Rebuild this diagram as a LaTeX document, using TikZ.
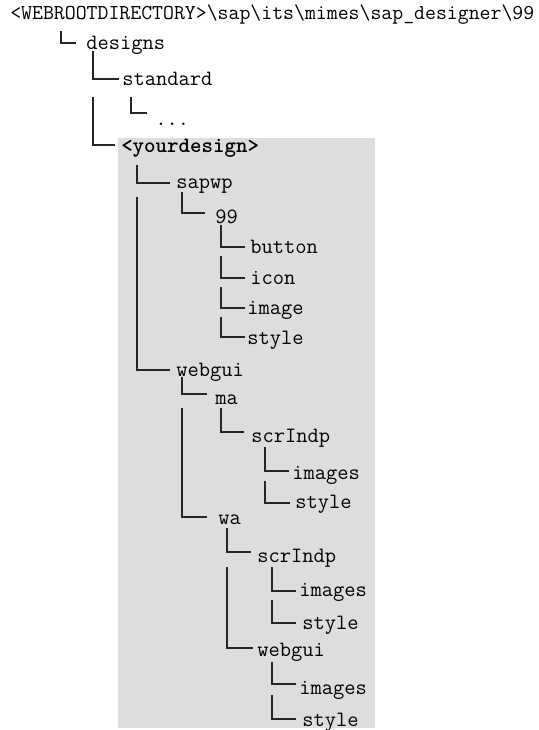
\documentclass[tikz,border=0pt]{standalone}
\usepackage{fontspec}
\usetikzlibrary{calc}
\definecolor{dirgray}{RGB}{221,221,221}
\tikzset{
  item/.style={anchor=base west,inner sep=0pt,font=\ttfamily\fontsize{16.4}{18}\selectfont},
  branch/.style={line width=0.8pt,black!85}
}

\begin{document}
\begin{tikzpicture}[x=0.75pt,y=-0.75pt]
\useasboundingbox (0,0) rectangle (538,730);
% shaded part below the custom design
\fill[dirgray] (118,138) rectangle (375,728);
\node[item,font=\ttfamily\fontsize{15.9}{17}\selectfont] (root) at (10,20)
  {<WEBROOTDIRECTORY>\textbackslash sap\textbackslash its\textbackslash mimes\textbackslash sap\_designer\textbackslash 99};
\node[item] (des) at (86,50) {designs};
\node[item] (std) at (122,86) {standard};
\node[item] (dots) at (155,126) {...};
\node[item] (yd) at (121,153) {\bfseries <yourdesign>};
% sapwp branch
\node[item] (sapwp) at (176,189) {sapwp};
\node[item] (n99) at (215,224) {99};
\node[item] (btn) at (250,254) {button};
\node[item] (icon) at (250,285) {icon};
\node[item] (img) at (247,315) {image};
\node[item] (sty) at (247,344) {style};
% webgui branch
\node[item] (wg) at (176,376) {webgui};
\node[item] (ma) at (215,404) {ma};
\node[item] (si) at (251,442) {scrIndp};
\node[item] (si-img) at (292,479) {images};
\node[item] (si-sty) at (295,508) {style};
\node[item] (wa) at (218,524) {wa};
\node[item] (wsi) at (257,562) {scrIndp};
\node[item] (wsi-img) at (299,596) {images};
\node[item] (wsi-sty) at (302,629) {style};
\node[item] (wwg) at (257,656) {webgui};
\node[item] (wwg-img) at (299,694) {images};
\node[item] (wwg-sty) at (302,726) {style};
% elbow connectors: parent/child/dx/dy/gap/rise
\foreach \p/\c/\dx/\dy/\gap/\rise in {
  root/des/51/11/10/7, des/std/7/1/3/7, std/dots/9/11/8/13, des/yd/7/47/6/8,
  yd/sapwp/16/12/6/6, sapwp/n99/6/3/10/11,
  n99/btn/6/1/5/7, n99/icon/6/32/5/7, n99/img/6/63/2/7, n99/sty/6/93/2/7,
  yd/wg/16/44/6/6, wg/ma/6/1/8/10, ma/si/6/4/7/10,
  si/si-img/14/5/3/8, si/si-sty/14/39/5/5, wg/wa/6/32/11/7,
  wa/wsi/9/4/6/10, wsi/wsi-img/15/5/3/5, wsi/wsi-sty/15/38/6/6,
  wa/wwg/9/43/4/8, wwg/wwg-img/15/6/3/10, wwg/wwg-sty/15/39/6/7}
  \draw[branch] ($(\p.base west)+(\dx,\dy)$) |- ($(\c.base west)+(-\gap,-\rise)$);
\end{tikzpicture}
\end{document}
